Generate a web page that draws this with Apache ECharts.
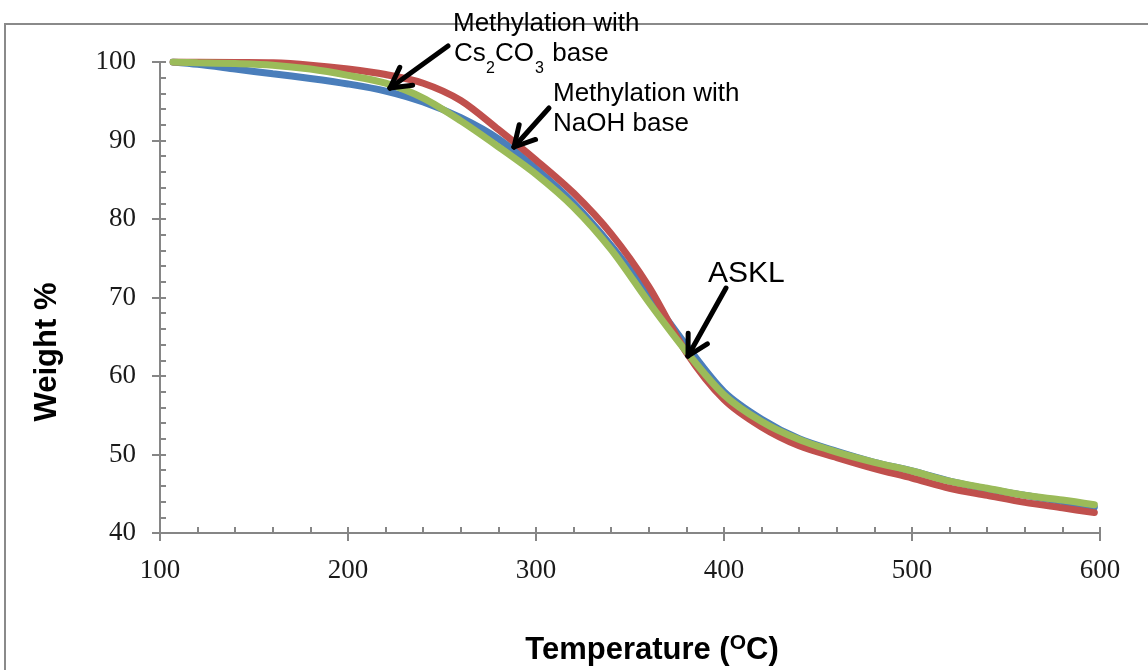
<!DOCTYPE html>
<html>
<head>
<meta charset="utf-8">
<script src="https://cdn.jsdelivr.net/npm/echarts@6/dist/echarts.min.js"></script>
<style>
  html, body { margin: 0; padding: 0; background: #fff; }
  #Chart { width: 1148px; height: 670px; }
</style>
</head>
<body>
<div id="Chart"></div>
<script>
// temperature (°C) and weight %
var temps  = [107, 120, 140, 160, 180, 200, 220, 240, 260, 280, 300, 320, 340, 360, 380, 400, 420, 440, 460, 480, 500, 520, 540, 560, 580, 597];
var askl   = [100, 99.7, 99.1, 98.5, 97.9, 97.2, 96.3, 94.9, 92.9, 90.2, 86.4, 82.0, 76.6, 70.4, 63.9, 58.0, 54.5, 52.0, 50.4, 49.0, 47.9, 46.6, 45.6, 44.8, 44.0, 43.3];
var naoh   = [100, 100, 99.95, 99.9, 99.6, 99.1, 98.4, 97.3, 95.1, 91.4, 87.5, 83.3, 78.1, 71.4, 63.0, 57.0, 53.5, 51.1, 49.6, 48.2, 47.0, 45.7, 44.8, 43.9, 43.2, 42.6];
var cs2co3 = [100, 99.9, 99.8, 99.6, 99.1, 98.3, 97.3, 95.4, 92.5, 89.2, 85.7, 81.5, 76.1, 69.4, 63.1, 57.6, 54.2, 51.9, 50.3, 49.0, 47.9, 46.6, 45.7, 44.8, 44.2, 43.6];
var xTicks = [100, 200, 300, 400, 500, 600];
var yTicks = [40, 50, 60, 70, 80, 90, 100];

var axisGray = "#868686";
var labelFont = "Liberation Serif";
var textFont = "Liberation Sans";

function pairs(vals) {
    return temps.map(function (t, i) { return [t, vals[i]]; });
}

// black annotation arrow: shaft plus two wing strokes
function arrow(x1, y1, x2, y2) {
    var dx = x2 - x1, dy = y2 - y1;
    var len = Math.sqrt(dx * dx + dy * dy);
    var ux = dx / len, uy = dy / len;
    var px = -uy, py = ux;
    var L = 20, W = 11;
    var stroke = { stroke: '#000', lineWidth: 5, lineCap: 'round' };
    return {
        type: 'group',
        children: [
            { type: 'line', z: 10, shape: { x1: x1, y1: y1, x2: x2, y2: y2 }, style: stroke },
            { type: 'line', z: 10, shape: { x1: x2, y1: y2, x2: x2 - ux * L + px * W, y2: y2 - uy * L + py * W }, style: stroke },
            { type: 'line', z: 10, shape: { x1: x2, y1: y2, x2: x2 - ux * L - px * W, y2: y2 - uy * L - py * W }, style: stroke }
        ]
    };
}

function note(x, y, text, size) {
    return { type: 'text', z: 11, x: x, y: y,
             style: { text: text, fontFamily: textFont, fontSize: size || 26, fill: '#000',
                      align: 'left', verticalAlign: 'middle' } };
}

var chart = echarts.init(document.getElementById("Chart"));
var option = {
    backgroundColor: '#fff',
    animation: false,
    grid: { left: 160, top: 62, width: 940, height: 471, containLabel: false, outerBoundsMode: 'none' },
    xAxis: [
        {
            type: 'value', min: 100, max: 600, interval: 100,
            axisLine: { onZero: false, lineStyle: { color: axisGray, width: 2 } },
            axisTick: { show: true, inside: false, length: 8, lineStyle: { color: axisGray, width: 2 } },
            splitLine: { show: false },
            axisLabel: { margin: 24, color: '#1a1a1a', fontFamily: labelFont, fontSize: 27,
                formatter: function (v) { return xTicks.indexOf(v) >= 0 ? String(v) : ''; } }
        },
        {
            type: 'value', min: 100, max: 600, interval: 20, position: 'bottom',
            axisLine: { show: false },
            axisTick: { show: true, inside: true, length: 6, lineStyle: { color: axisGray, width: 2 } },
            splitLine: { show: false },
            axisLabel: { show: false }
        }
    ],
    yAxis: [
        {
            type: 'value', min: 40, max: 100, interval: 10,
            axisLine: { show: true, onZero: false, lineStyle: { color: axisGray, width: 2 } },
            axisTick: { show: true, inside: false, length: 8, lineStyle: { color: axisGray, width: 2 } },
            splitLine: { show: false },
            axisLabel: { margin: 24, color: '#1a1a1a', fontFamily: labelFont, fontSize: 27,
                padding: [5, 0, 0, 0],
                formatter: function (v) { return yTicks.indexOf(v) >= 0 ? String(v) : ''; } }
        },
        {
            type: 'value', min: 40, max: 100, interval: 2, position: 'left',
            axisLine: { show: false },
            axisTick: { show: true, inside: true, length: 6, lineStyle: { color: axisGray, width: 2 } },
            splitLine: { show: false },
            axisLabel: { show: false }
        }
    ],
    series: [
        { name: 'ASKL', type: 'line', data: pairs(askl), smooth: 0.3, showSymbol: false,
          lineStyle: { color: '#4a7ebb', width: 7, cap: 'round' }, itemStyle: { color: '#4a7ebb' } },
        { name: 'Methylation with NaOH base', type: 'line', data: pairs(naoh), smooth: 0.3, showSymbol: false,
          lineStyle: { color: '#c0504d', width: 7, cap: 'round' }, itemStyle: { color: '#c0504d' } },
        { name: 'Methylation with Cs2CO3 base', type: 'line', data: pairs(cs2co3), smooth: 0.3, showSymbol: false,
          lineStyle: { color: '#9bbb59', width: 7, cap: 'round' }, itemStyle: { color: '#9bbb59' } }
    ],
    graphic: [
        { type: 'rect', z: 0, shape: { x: 5, y: 24, width: 1200, height: 700 },
          style: { fill: null, stroke: '#8a8a8a', lineWidth: 2 } },
        { type: 'text', z: 11, x: 47, y: 352, rotation: Math.PI / 2,
          style: { text: 'Weight %', fontFamily: textFont, fontWeight: 'bold', fontSize: 31,
                   fill: '#000', align: 'center', verticalAlign: 'middle' } },
        { type: 'text', z: 11, x: 652, y: 650,
          style: { text: 'Temperature ({sup|O}C)', fontFamily: textFont, fontWeight: 'bold', fontSize: 31,
                   fill: '#000', align: 'center', verticalAlign: 'middle',
                   rich: { sup: { fontFamily: textFont, fontWeight: 'bold', fontSize: 21, fill: '#000',
                                  verticalAlign: 'top', padding: [0, 0, 14, 0] } } } },
        note(453, 24, 'Methylation with'),
        note(454, 54, 'Cs'),
        note(486, 69, '2', 16),
        note(495, 54, 'CO'),
        note(535, 69, '3', 16),
        note(545, 54, ' base'),
        note(553, 94, 'Methylation with'),
        note(553, 124, 'NaOH base'),
        note(708, 274, 'ASKL', 30),
        arrow(448, 46, 390, 88),
        arrow(549, 108, 514, 147),
        arrow(726, 288, 688, 356)
    ]
};
chart.setOption(option);
window.addEventListener("resize", function () {
    chart.resize();
});
</script>
</body>
</html>
